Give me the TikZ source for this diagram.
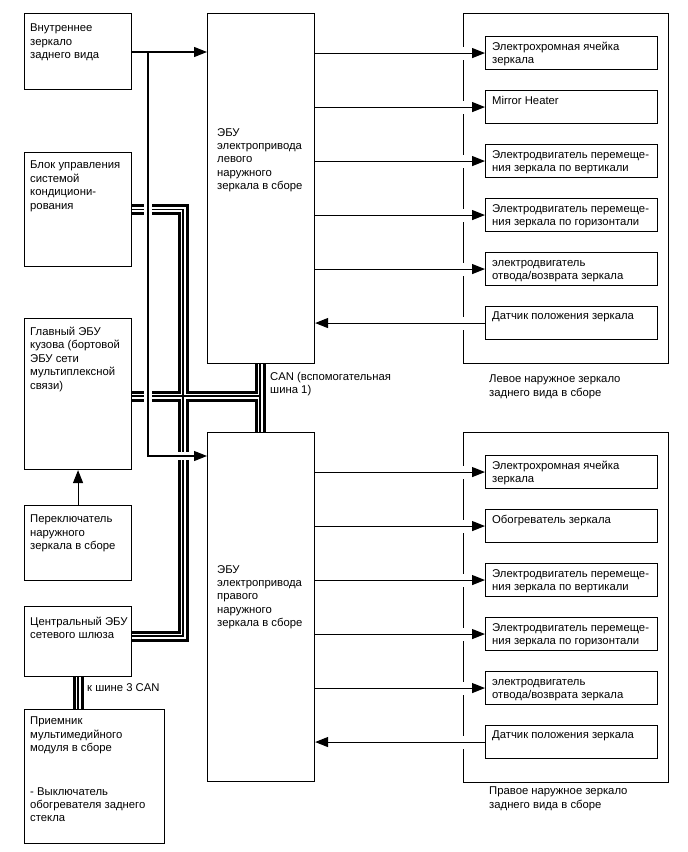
\documentclass[tikz,border=0pt]{standalone}
\usepackage{fontspec}
\setmainfont{Liberation Sans}
\usetikzlibrary{arrows.meta,backgrounds}
\tikzset{
  box/.style={draw, line width=1.1pt, fill=white, inner sep=0pt, anchor=north west},
  frm/.style={draw, line width=1.1pt, inner sep=0pt, anchor=north west},
  txt/.style={inner sep=0pt, anchor=north west, align=left, font=\fontsize{11.3}{13.4}\selectfont},
  sig/.style={line width=1.1pt, -{Triangle[length=13pt,width=10pt]}},
  cut/.style={preaction={draw=white, line width=#1, -}},
}
\newcommand\busall[1]{%
  \draw[#1] (cond.east) -| (jx) |- (gwb);
  \draw[#1] (mainb) -- (can);
  \draw[#1] (ecuL.south -| can) -- (ecuR.north -| can);
  \draw[#1] (gw.south) -- (gw.south |- mm.north);
}
\begin{document}
\begin{tikzpicture}[x=1pt,y=-1pt]
\useasboundingbox (0,0) rectangle (688,852);
% left column boxes
\node[box,minimum width=107pt,minimum height=76pt]  (inner) at (24,13) {};
\node[box,minimum width=107pt,minimum height=114pt] (cond)  at (24,152) {};
\node[box,minimum width=107pt,minimum height=151pt] (main)  at (24,318) {};
\node[box,minimum width=107pt,minimum height=75pt]  (sw)    at (24,505) {};
\node[box,minimum width=107pt,minimum height=70pt]  (gw)    at (24,606) {};
\node[box,minimum width=140pt,minimum height=134pt] (mm)    at (24,709) {};
% ECUs
\node[box,minimum width=107pt,minimum height=350pt] (ecuL) at (207,13) {};
\node[box,minimum width=107pt,minimum height=349pt] (ecuR) at (207,432) {};
% small boxes left
\node[box,minimum width=172pt,minimum height=33pt] (l1) at (485,36) {};
\node[box,minimum width=172pt,minimum height=33pt] (l2) at (485,90) {};
\node[box,minimum width=172pt,minimum height=33pt] (l3) at (485,144) {};
\node[box,minimum width=172pt,minimum height=33pt] (l4) at (485,198) {};
\node[box,minimum width=172pt,minimum height=33pt] (l5) at (485,252) {};
\node[box,minimum width=172pt,minimum height=33pt] (l6) at (485,306) {};
% small boxes right
\node[box,minimum width=172pt,minimum height=33pt] (r1) at (485,455) {};
\node[box,minimum width=172pt,minimum height=33pt] (r2) at (485,509) {};
\node[box,minimum width=172pt,minimum height=33pt] (r3) at (485,563) {};
\node[box,minimum width=172pt,minimum height=33pt] (r4) at (485,617) {};
\node[box,minimum width=172pt,minimum height=33pt] (r5) at (485,671) {};
\node[box,minimum width=172pt,minimum height=33pt] (r6) at (485,725) {};
% texts
\node[txt] (tInner) at (30,24) {Внутреннее\\зеркало\\заднего вида};
\node[txt] (tCond) at (30,161) {Блок управления\\системой\\кондициони-\\рования};
\node[txt] (tMain) at (30,327) {Главный ЭБУ\\кузова (бортовой\\ЭБУ сети\\мультиплексной\\связи)};
\node[txt] (tSw) at (30,515) {Переключатель\\наружного\\зеркала в сборе};
\node[txt] (tGw) at (30,617) {Центральный ЭБУ\\сетевого шлюза};
\node[txt] (tMm) at (30,717) {Приемник\\мультимедийного\\модуля в сборе\\[30pt]- Выключатель\\обогревателя заднего\\стекла};
\node[txt] (tL) at (217,128) {ЭБУ\\электропривода\\левого\\наружного\\зеркала в сборе};
\node[txt] (tR) at (217,565) {ЭБУ\\электропривода\\правого\\наружного\\зеркала в сборе};
\node[txt] (tl1) at (492,42) {Электрохромная ячейка\\зеркала};
\node[txt] (tl2) at (492,96) {Mirror Heater};
\node[txt] (tl3) at (492,150) {Электродвигатель перемеще-\\ния зеркала по вертикали};
\node[txt] (tl4) at (492,204) {Электродвигатель перемеще-\\ния зеркала по горизонтали};
\node[txt] (tl5) at (492,260) {электродвигатель\\отвода/возврата зеркала};
\node[txt] (tl6) at (492,312) {Датчик положения зеркала};
\node[txt] (tr1) at (492,461) {Электрохромная ячейка\\зеркала};
\node[txt] (tr2) at (492,515) {Обогреватель зеркала};
\node[txt] (tr3) at (492,569) {Электродвигатель перемеще-\\ния зеркала по вертикали};
\node[txt] (tr4) at (492,623) {Электродвигатель перемеще-\\ния зеркала по горизонтали};
\node[txt] (tr5) at (492,679) {электродвигатель\\отвода/возврата зеркала};
\node[txt] (tr6) at (492,731) {Датчик положения зеркала};
\node[txt] (capL) at (489,375) {Левое наружное зеркало\\заднего вида в сборе};
\node[txt] (capR) at (489,787) {Правое наружное зеркало\\заднего вида в сборе};
\node[txt] (canL) at (270,372) {CAN (вспомогательная\\шина 1)};
\node[txt] (can3) at (87,683) {к шине 3 CAN};
% coordinates
\coordinate (jx) at (183,396);
\coordinate (can) at (260,396);
\coordinate (gwb) at (131,636);
\coordinate (mainb) at (131,396);
\coordinate (b1) at (148,52);
\coordinate (b2) at (148,456);
\begin{scope}[on background layer]
  \node[frm,minimum width=205pt,minimum height=350pt] (frL) at (463,13) {};
  \node[frm,minimum width=205pt,minimum height=350pt] (frR) at (463,432) {};
  % CAN buses: black, white, centre line
  \busall{line width=11pt,black}
  \busall{line width=5pt,white}
  \busall{line width=1.2pt,black}
  % signal lines
  \draw[sig,cut=8pt] (b1) -- (b2) -- (b2 -| ecuR.west);
  \draw[sig] (inner.east |- b1) -- (ecuL.west |- b1);
  \draw[sig] (sw.north) -- (main.south);
  \foreach \i in {1,...,5} {
    \draw[sig,cut=13pt] (ecuL.east |- l\i.west) -- (l\i.west);
    \draw[sig,cut=13pt] (ecuR.east |- r\i.west) -- (r\i.west);
  }
  \draw[sig,cut=13pt] (l6.west) -- (ecuL.east |- l6.west);
  \draw[sig,cut=13pt] (r6.west) -- (ecuR.east |- r6.west);
\end{scope}
\end{tikzpicture}
\end{document}
